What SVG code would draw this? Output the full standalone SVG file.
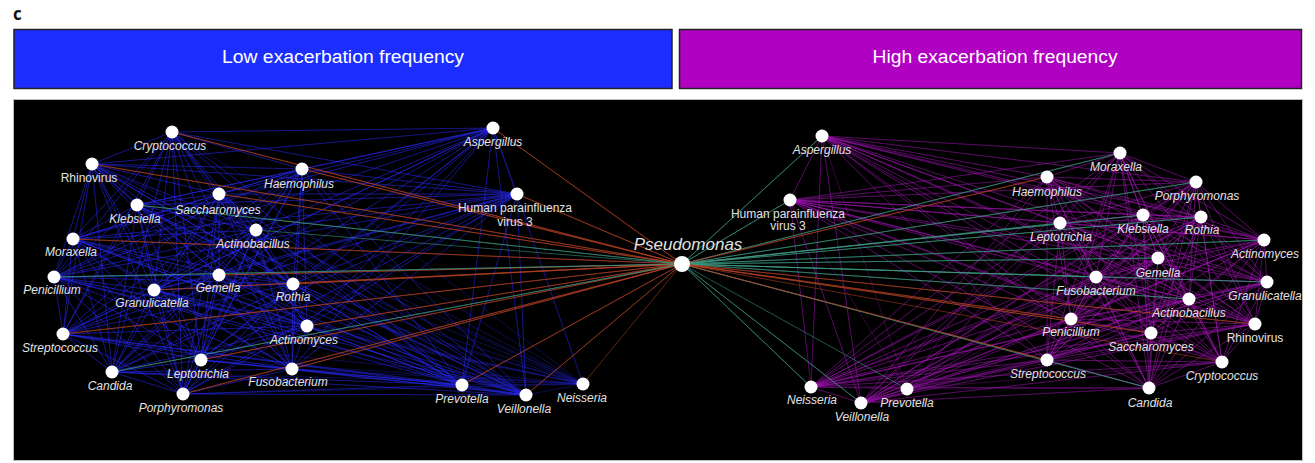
<svg xmlns="http://www.w3.org/2000/svg" width="1315" height="463" viewBox="0 0 1315 463">
<style>
.lbl{font-family:"Liberation Sans",Arial,sans-serif;font-size:12px;font-style:italic;fill:#e2e2e2;text-anchor:middle}
.up{font-style:normal}
.nd{fill:#ffffff}
.eb{fill:none;stroke:#2a2aff;stroke-width:1;stroke-opacity:0.3;stroke-linejoin:round}
.em{fill:none;stroke:#a818bc;stroke-width:1;stroke-opacity:0.3;stroke-linejoin:round}
.er{fill:none;stroke:#b84424;stroke-width:1;stroke-opacity:0.55;stroke-linejoin:round}
.eg{fill:none;stroke:#3f9c86;stroke-width:1;stroke-opacity:0.55;stroke-linejoin:round}
.hdr{font-family:"Liberation Sans",Arial,sans-serif;font-size:18px;fill:#ffffff;text-anchor:middle}
</style>
<rect width="1315" height="463" fill="#ffffff"/>
<text x="13" y="20" font-family="'Open Sans','Liberation Sans',sans-serif" font-weight="bold" font-size="17" fill="#111">c</text>
<g id="header-low"><rect x="14" y="29.5" width="658" height="59" fill="#1b2eff" stroke="#222" stroke-width="1.5"/><text class="hdr" x="343" y="63" textLength="242" lengthAdjust="spacingAndGlyphs">Low exacerbation frequency</text></g>
<g id="header-high"><rect x="679.5" y="29.5" width="622" height="59" fill="#b000c2" stroke="#222" stroke-width="1.5"/><text class="hdr" x="995" y="63" textLength="245" lengthAdjust="spacingAndGlyphs">High exacerbation frequency</text></g>
<rect x="13.5" y="99.5" width="1289" height="361" fill="#000000" stroke="#bbbbbb" stroke-width="1"/>
<g id="connectors">
<path class="eb" d="M172 132L92 164 172 132 302 169 172 132 219 194 172 132 137 205 172 132 256 230 172 132 73 239 172 132 219 275 172 132 54 277 172 132 154 290 172 132 293 284 172 132 307 326 172 132 63 334 172 132 201 360 172 132 112 372 172 132 292 369 172 132 183 394 172 132 493 128 172 132 517 194 172 132 462 385 172 132 526 395 172 132 583 384"/>
<path class="eb" d="M92 164L302 169 92 164 219 194 92 164 137 205 92 164 256 230 92 164 73 239 92 164 219 275 92 164 54 277 92 164 154 290 92 164 293 284 92 164 307 326 92 164 63 334 92 164 201 360 92 164 112 372 92 164 292 369 92 164 183 394 92 164 493 128 92 164 517 194 92 164 462 385 92 164 526 395 92 164 583 384"/>
<path class="eb" d="M302 169L219 194 302 169 137 205 302 169 256 230 302 169 73 239 302 169 219 275 302 169 54 277 302 169 154 290 302 169 293 284 302 169 307 326 302 169 63 334 302 169 201 360 302 169 112 372 302 169 292 369 302 169 183 394 302 169 493 128 302 169 517 194 302 169 462 385 302 169 526 395 302 169 583 384"/>
<path class="eb" d="M219 194L137 205 219 194 256 230 219 194 73 239 219 194 219 275 219 194 54 277 219 194 154 290 219 194 293 284 219 194 307 326 219 194 63 334 219 194 201 360 219 194 112 372 219 194 292 369 219 194 183 394 219 194 493 128 219 194 517 194 219 194 462 385 219 194 526 395 219 194 583 384"/>
<path class="eb" d="M137 205L256 230 137 205 73 239 137 205 219 275 137 205 54 277 137 205 154 290 137 205 293 284 137 205 307 326 137 205 63 334 137 205 201 360 137 205 112 372 137 205 292 369 137 205 183 394 137 205 493 128 137 205 517 194 137 205 462 385 137 205 526 395 137 205 583 384"/>
<path class="eb" d="M256 230L73 239 256 230 219 275 256 230 54 277 256 230 154 290 256 230 293 284 256 230 307 326 256 230 63 334 256 230 201 360 256 230 112 372 256 230 292 369 256 230 183 394 256 230 493 128 256 230 517 194 256 230 462 385 256 230 526 395 256 230 583 384"/>
<path class="eb" d="M73 239L219 275 73 239 54 277 73 239 154 290 73 239 293 284 73 239 307 326 73 239 63 334 73 239 201 360 73 239 112 372 73 239 292 369 73 239 183 394 73 239 493 128 73 239 517 194 73 239 462 385 73 239 526 395 73 239 583 384"/>
<path class="eb" d="M219 275L54 277 219 275 154 290 219 275 293 284 219 275 307 326 219 275 63 334 219 275 201 360 219 275 112 372 219 275 292 369 219 275 183 394 219 275 493 128 219 275 517 194 219 275 462 385 219 275 526 395 219 275 583 384"/>
<path class="eb" d="M54 277L154 290 54 277 293 284 54 277 307 326 54 277 63 334 54 277 201 360 54 277 112 372 54 277 292 369 54 277 183 394 54 277 493 128 54 277 517 194 54 277 462 385 54 277 526 395 54 277 583 384"/>
<path class="eb" d="M154 290L293 284 154 290 307 326 154 290 63 334 154 290 201 360 154 290 112 372 154 290 292 369 154 290 183 394 154 290 493 128 154 290 517 194 154 290 462 385 154 290 526 395 154 290 583 384"/>
<path class="eb" d="M293 284L307 326 293 284 63 334 293 284 201 360 293 284 112 372 293 284 292 369 293 284 183 394 293 284 493 128 293 284 517 194 293 284 462 385 293 284 526 395 293 284 583 384"/>
<path class="eb" d="M307 326L63 334 307 326 201 360 307 326 112 372 307 326 292 369 307 326 183 394 307 326 493 128 307 326 517 194 307 326 462 385 307 326 526 395 307 326 583 384"/>
<path class="eb" d="M63 334L201 360 63 334 112 372 63 334 292 369 63 334 183 394 63 334 493 128 63 334 517 194 63 334 462 385 63 334 526 395 63 334 583 384"/>
<path class="eb" d="M201 360L112 372 201 360 292 369 201 360 183 394 201 360 493 128 201 360 517 194 201 360 462 385 201 360 526 395 201 360 583 384"/>
<path class="eb" d="M112 372L292 369 112 372 183 394 112 372 493 128 112 372 517 194 112 372 462 385 112 372 526 395 112 372 583 384"/>
<path class="eb" d="M292 369L183 394 292 369 493 128 292 369 517 194 292 369 462 385 292 369 526 395 292 369 583 384"/>
<path class="eb" d="M183 394L493 128 183 394 517 194 183 394 462 385 183 394 526 395 183 394 583 384"/>
<path class="eb" d="M493 128L517 194 493 128 462 385 493 128 526 395 493 128 583 384"/>
<path class="eb" d="M517 194L462 385 517 194 526 395 517 194 583 384"/>
<path class="eb" d="M462 385L526 395 462 385 583 384M526 395L583 384"/>

<path class="em" d="M822 136L790 200 822 136 1120 153 822 136 1047 177 822 136 1196 182 822 136 1143 215 822 136 1201 217 822 136 1060 223 822 136 1264 240 822 136 1158 258 822 136 1096 277 822 136 1267 282 822 136 1189 299 822 136 1071 319 822 136 1255 324 822 136 1151 333 822 136 1047 360 822 136 1222 362 822 136 1149 388 822 136 811 387 822 136 861 403 822 136 907 389"/>
<path class="em" d="M790 200L1120 153 790 200 1047 177 790 200 1196 182 790 200 1143 215 790 200 1201 217 790 200 1060 223 790 200 1264 240 790 200 1158 258 790 200 1096 277 790 200 1267 282 790 200 1189 299 790 200 1071 319 790 200 1255 324 790 200 1151 333 790 200 1047 360 790 200 1222 362 790 200 1149 388 790 200 811 387 790 200 861 403 790 200 907 389"/>
<path class="em" d="M1120 153L1047 177 1120 153 1196 182 1120 153 1143 215 1120 153 1201 217 1120 153 1060 223 1120 153 1264 240 1120 153 1158 258 1120 153 1096 277 1120 153 1267 282 1120 153 1189 299 1120 153 1071 319 1120 153 1255 324 1120 153 1151 333 1120 153 1047 360 1120 153 1222 362 1120 153 1149 388 1120 153 811 387 1120 153 861 403 1120 153 907 389"/>
<path class="em" d="M1047 177L1196 182 1047 177 1143 215 1047 177 1201 217 1047 177 1060 223 1047 177 1264 240 1047 177 1158 258 1047 177 1096 277 1047 177 1267 282 1047 177 1189 299 1047 177 1071 319 1047 177 1255 324 1047 177 1151 333 1047 177 1047 360 1047 177 1222 362 1047 177 1149 388 1047 177 811 387 1047 177 861 403 1047 177 907 389"/>
<path class="em" d="M1196 182L1143 215 1196 182 1201 217 1196 182 1060 223 1196 182 1264 240 1196 182 1158 258 1196 182 1096 277 1196 182 1267 282 1196 182 1189 299 1196 182 1071 319 1196 182 1255 324 1196 182 1151 333 1196 182 1047 360 1196 182 1222 362 1196 182 1149 388 1196 182 811 387 1196 182 861 403 1196 182 907 389"/>
<path class="em" d="M1143 215L1201 217 1143 215 1060 223 1143 215 1264 240 1143 215 1158 258 1143 215 1096 277 1143 215 1267 282 1143 215 1189 299 1143 215 1071 319 1143 215 1255 324 1143 215 1151 333 1143 215 1047 360 1143 215 1222 362 1143 215 1149 388 1143 215 811 387 1143 215 861 403 1143 215 907 389"/>
<path class="em" d="M1201 217L1060 223 1201 217 1264 240 1201 217 1158 258 1201 217 1096 277 1201 217 1267 282 1201 217 1189 299 1201 217 1071 319 1201 217 1255 324 1201 217 1151 333 1201 217 1047 360 1201 217 1222 362 1201 217 1149 388 1201 217 811 387 1201 217 861 403 1201 217 907 389"/>
<path class="em" d="M1060 223L1264 240 1060 223 1158 258 1060 223 1096 277 1060 223 1267 282 1060 223 1189 299 1060 223 1071 319 1060 223 1255 324 1060 223 1151 333 1060 223 1047 360 1060 223 1222 362 1060 223 1149 388 1060 223 811 387 1060 223 861 403 1060 223 907 389"/>
<path class="em" d="M1264 240L1158 258 1264 240 1096 277 1264 240 1267 282 1264 240 1189 299 1264 240 1071 319 1264 240 1255 324 1264 240 1151 333 1264 240 1047 360 1264 240 1222 362 1264 240 1149 388 1264 240 811 387 1264 240 861 403 1264 240 907 389"/>
<path class="em" d="M1158 258L1096 277 1158 258 1267 282 1158 258 1189 299 1158 258 1071 319 1158 258 1255 324 1158 258 1151 333 1158 258 1047 360 1158 258 1222 362 1158 258 1149 388 1158 258 811 387 1158 258 861 403 1158 258 907 389"/>
<path class="em" d="M1096 277L1267 282 1096 277 1189 299 1096 277 1071 319 1096 277 1255 324 1096 277 1151 333 1096 277 1047 360 1096 277 1222 362 1096 277 1149 388 1096 277 811 387 1096 277 861 403 1096 277 907 389"/>
<path class="em" d="M1267 282L1189 299 1267 282 1071 319 1267 282 1255 324 1267 282 1151 333 1267 282 1047 360 1267 282 1222 362 1267 282 1149 388 1267 282 811 387 1267 282 861 403 1267 282 907 389"/>
<path class="em" d="M1189 299L1071 319 1189 299 1255 324 1189 299 1151 333 1189 299 1047 360 1189 299 1222 362 1189 299 1149 388 1189 299 811 387 1189 299 861 403 1189 299 907 389"/>
<path class="em" d="M1071 319L1255 324 1071 319 1151 333 1071 319 1047 360 1071 319 1222 362 1071 319 1149 388 1071 319 811 387 1071 319 861 403 1071 319 907 389"/>
<path class="em" d="M1255 324L1151 333 1255 324 1047 360 1255 324 1222 362 1255 324 1149 388 1255 324 811 387 1255 324 861 403 1255 324 907 389"/>
<path class="em" d="M1151 333L1047 360 1151 333 1222 362 1151 333 1149 388 1151 333 811 387 1151 333 861 403 1151 333 907 389"/>
<path class="em" d="M1047 360L1222 362 1047 360 1149 388 1047 360 811 387 1047 360 861 403 1047 360 907 389"/>
<path class="em" d="M1222 362L1149 388 1222 362 811 387 1222 362 861 403 1222 362 907 389"/>
<path class="em" d="M1149 388L811 387 1149 388 861 403 1149 388 907 389M811 387L861 403 811 387 907 389M861 403L907 389"/>

<path class="er" d="M682 264L172 132 682 264 92 164 682 264 302 169 682 264 219 194 682 264 73 239 682 264 219 275 682 264 154 290 682 264 293 284 682 264 307 326 682 264 63 334 682 264 201 360 682 264 292 369 682 264 183 394 682 264 493 128 682 264 517 194 682 264 462 385 682 264 526 395 682 264 583 384"/>
<path class="eg" d="M682 264L137 205 682 264 54 277 682 264 112 372 682 264 256 230"/>
<path class="eg" d="M682 264L822 136 682 264 790 200 682 264 1120 153 682 264 1196 182 682 264 1143 215 682 264 1201 217 682 264 1060 223 682 264 1264 240 682 264 1158 258 682 264 1096 277 682 264 1267 282 682 264 1189 299 682 264 1149 388 682 264 811 387 682 264 861 403 682 264 907 389"/>
<path class="er" d="M682 264L1047 177 682 264 1071 319 682 264 1255 324 682 264 1151 333 682 264 1047 360 682 264 1222 362"/>
</g>

<g id="n-pseudomonas"><circle class="nd" cx="682" cy="264" r="8"/><text class="lbl" x="688" y="250" style="font-size:17px">Pseudomonas</text></g>

<g id="l-cryptococcus"><circle class="nd" cx="172" cy="132" r="6.5"/><text class="lbl" x="170" y="150">Cryptococcus</text></g>
<g id="l-rhinovirus"><circle class="nd" cx="92" cy="164" r="6.5"/><text class="lbl up" x="89" y="182">Rhinovirus</text></g>
<g id="l-haemophilus"><circle class="nd" cx="302" cy="169" r="6.5"/><text class="lbl" x="299" y="188">Haemophilus</text></g>
<g id="l-saccharomyces"><circle class="nd" cx="219" cy="194" r="6.5"/><text class="lbl" x="218" y="214">Saccharomyces</text></g>
<g id="l-klebsiella"><circle class="nd" cx="137" cy="205" r="6.5"/><text class="lbl" x="135" y="223">Klebsiella</text></g>
<g id="l-actinobacillus"><circle class="nd" cx="256" cy="230" r="6.5"/><text class="lbl" x="253" y="248">Actinobacillus</text></g>
<g id="l-moraxella"><circle class="nd" cx="73" cy="239" r="6.5"/><text class="lbl" x="71" y="256">Moraxella</text></g>
<g id="l-gemella"><circle class="nd" cx="219" cy="275" r="6.5"/><text class="lbl" x="218" y="292">Gemella</text></g>
<g id="l-penicillium"><circle class="nd" cx="54" cy="277" r="6.5"/><text class="lbl" x="52" y="294">Penicillium</text></g>
<g id="l-granulicatella"><circle class="nd" cx="154" cy="290" r="6.5"/><text class="lbl" x="152" y="307">Granulicatella</text></g>
<g id="l-rothia"><circle class="nd" cx="293" cy="284" r="6.5"/><text class="lbl" x="293" y="301">Rothia</text></g>
<g id="l-actinomyces"><circle class="nd" cx="307" cy="326" r="6.5"/><text class="lbl" x="304" y="344">Actinomyces</text></g>
<g id="l-streptococcus"><circle class="nd" cx="63" cy="334" r="6.5"/><text class="lbl" x="60" y="352">Streptococcus</text></g>
<g id="l-leptotrichia"><circle class="nd" cx="201" cy="360" r="6.5"/><text class="lbl" x="198" y="378">Leptotrichia</text></g>
<g id="l-candida"><circle class="nd" cx="112" cy="372" r="6.5"/><text class="lbl" x="110" y="390">Candida</text></g>
<g id="l-fusobacterium"><circle class="nd" cx="292" cy="369" r="6.5"/><text class="lbl" x="288" y="386">Fusobacterium</text></g>
<g id="l-porphyromonas"><circle class="nd" cx="183" cy="394" r="6.5"/><text class="lbl" x="181" y="412">Porphyromonas</text></g>
<g id="l-aspergillus"><circle class="nd" cx="493" cy="128" r="6.5"/><text class="lbl" x="493" y="146">Aspergillus</text></g>
<g id="l-hpiv3"><circle class="nd" cx="517" cy="194" r="6.5"/><text class="lbl up" x="515" y="212">Human parainfluenza</text><text class="lbl up" x="515" y="226">virus 3</text></g>
<g id="l-prevotella"><circle class="nd" cx="462" cy="385" r="6.5"/><text class="lbl" x="462" y="403">Prevotella</text></g>
<g id="l-veillonella"><circle class="nd" cx="526" cy="395" r="6.5"/><text class="lbl" x="524" y="413">Veillonella</text></g>
<g id="l-neisseria"><circle class="nd" cx="583" cy="384" r="6.5"/><text class="lbl" x="582" y="402">Neisseria</text></g>

<g id="r-aspergillus"><circle class="nd" cx="822" cy="136" r="6.5"/><text class="lbl" x="822" y="154">Aspergillus</text></g>
<g id="r-hpiv3"><circle class="nd" cx="790" cy="200" r="6.5"/><text class="lbl up" x="788" y="218">Human parainfluenza</text><text class="lbl up" x="788" y="230">virus 3</text></g>
<g id="r-moraxella"><circle class="nd" cx="1120" cy="153" r="6.5"/><text class="lbl" x="1116" y="171">Moraxella</text></g>
<g id="r-haemophilus"><circle class="nd" cx="1047" cy="177" r="6.5"/><text class="lbl" x="1047" y="196">Haemophilus</text></g>
<g id="r-porphyromonas"><circle class="nd" cx="1196" cy="182" r="6.5"/><text class="lbl" x="1197" y="200">Porphyromonas</text></g>
<g id="r-klebsiella"><circle class="nd" cx="1143" cy="215" r="6.5"/><text class="lbl" x="1143" y="233">Klebsiella</text></g>
<g id="r-rothia"><circle class="nd" cx="1201" cy="217" r="6.5"/><text class="lbl" x="1202" y="234">Rothia</text></g>
<g id="r-leptotrichia"><circle class="nd" cx="1060" cy="223" r="6.5"/><text class="lbl" x="1061" y="241">Leptotrichia</text></g>
<g id="r-actinomyces"><circle class="nd" cx="1264" cy="240" r="6.5"/><text class="lbl" x="1265" y="258">Actinomyces</text></g>
<g id="r-gemella"><circle class="nd" cx="1158" cy="258" r="6.5"/><text class="lbl" x="1158" y="277">Gemella</text></g>
<g id="r-fusobacterium"><circle class="nd" cx="1096" cy="277" r="6.5"/><text class="lbl" x="1096" y="295">Fusobacterium</text></g>
<g id="r-granulicatella"><circle class="nd" cx="1267" cy="282" r="6.5"/><text class="lbl" x="1265" y="300">Granulicatella</text></g>
<g id="r-actinobacillus"><circle class="nd" cx="1189" cy="299" r="6.5"/><text class="lbl" x="1189" y="317">Actinobacillus</text></g>
<g id="r-penicillium"><circle class="nd" cx="1071" cy="319" r="6.5"/><text class="lbl" x="1071" y="336">Penicillium</text></g>
<g id="r-rhinovirus"><circle class="nd" cx="1255" cy="324" r="6.5"/><text class="lbl up" x="1255" y="342">Rhinovirus</text></g>
<g id="r-saccharomyces"><circle class="nd" cx="1151" cy="333" r="6.5"/><text class="lbl" x="1151" y="351">Saccharomyces</text></g>
<g id="r-streptococcus"><circle class="nd" cx="1047" cy="360" r="6.5"/><text class="lbl" x="1048" y="378">Streptococcus</text></g>
<g id="r-cryptococcus"><circle class="nd" cx="1222" cy="362" r="6.5"/><text class="lbl" x="1222" y="380">Cryptococcus</text></g>
<g id="r-candida"><circle class="nd" cx="1149" cy="388" r="6.5"/><text class="lbl" x="1150" y="407">Candida</text></g>
<g id="r-neisseria"><circle class="nd" cx="811" cy="387" r="6.5"/><text class="lbl" x="812" y="404">Neisseria</text></g>
<g id="r-veillonella"><circle class="nd" cx="861" cy="403" r="6.5"/><text class="lbl" x="862" y="421">Veillonella</text></g>
<g id="r-prevotella"><circle class="nd" cx="907" cy="389" r="6.5"/><text class="lbl" x="907" y="407">Prevotella</text></g>
</svg>
